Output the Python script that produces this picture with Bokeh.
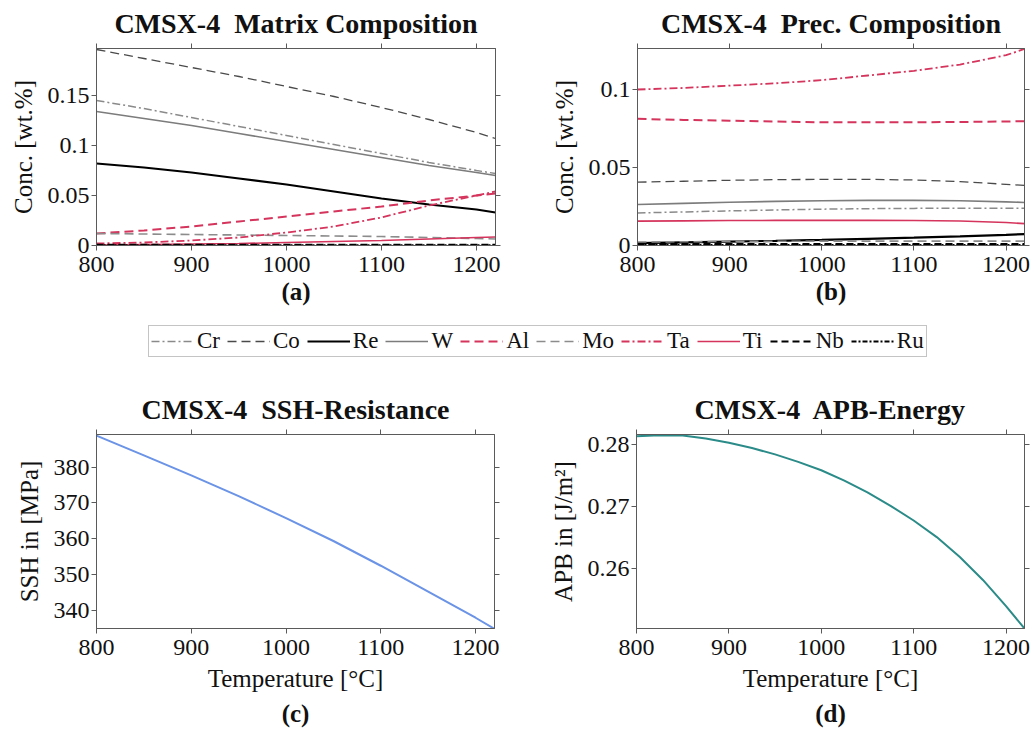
from bokeh.plotting import figure
from bokeh.models import (LinearAxis, FixedTicker, CustomJSTickFormatter, Range1d,
                          Legend, LegendItem, CustomLabelingPolicy)
from bokeh.layouts import column, row
from bokeh.embed import file_html
from bokeh.resources import INLINE

# ---------------- data ----------------
temps = [800, 850, 900, 950, 1000, 1050, 1100, 1150, 1200, 1220]
elements = ["Cr", "Co", "Re", "W", "Al", "Mo", "Ta", "Ti", "Nb", "Ru"]

# matrix composition (a)
mat_Cr = [0.145, 0.137, 0.128, 0.119, 0.110, 0.101, 0.092, 0.083, 0.075, 0.072]
mat_Co = [0.196, 0.187, 0.178, 0.169, 0.159, 0.149, 0.138, 0.126, 0.113, 0.107]
mat_Re = [0.082, 0.078, 0.073, 0.067, 0.061, 0.054, 0.047, 0.041, 0.036, 0.033]
mat_W = [0.134, 0.127, 0.120, 0.112, 0.104, 0.096, 0.088, 0.080, 0.073, 0.070]
mat_Al = [0.012, 0.015, 0.019, 0.024, 0.029, 0.034, 0.039, 0.045, 0.050, 0.052]
mat_Mo = [0.012, 0.0115, 0.011, 0.0105, 0.010, 0.0095, 0.009, 0.008, 0.007, 0.0065]
mat_Ta = [0.002, 0.003, 0.005, 0.008, 0.013, 0.019, 0.028, 0.040, 0.050, 0.054]
mat_Ti = [0.0005, 0.001, 0.0015, 0.002, 0.003, 0.004, 0.005, 0.0065, 0.008, 0.0085]
mat_Nb = [0.0008, 0.0008, 0.0008, 0.0008, 0.0008, 0.0008, 0.0008, 0.0008, 0.0008, 0.0008]
mat_Ru = [0.0003, 0.0003, 0.0003, 0.0003, 0.0003, 0.0003, 0.0003, 0.0003, 0.0003, 0.0003]

# precipitate composition (b)
prec_Cr = [0.0209, 0.0215, 0.0222, 0.0228, 0.0233, 0.0236, 0.0238, 0.0239, 0.0239, 0.0239]
prec_Co = [0.0406, 0.0412, 0.0418, 0.0422, 0.0424, 0.0424, 0.0420, 0.0410, 0.0392, 0.0385]
prec_Re = [0.0015, 0.0020, 0.0025, 0.0030, 0.0036, 0.0043, 0.0050, 0.0058, 0.0068, 0.0073]
prec_W = [0.0263, 0.0270, 0.0277, 0.0283, 0.0287, 0.0289, 0.0289, 0.0287, 0.0280, 0.0276]
prec_Al = [0.0812, 0.0805, 0.0800, 0.0795, 0.0790, 0.0790, 0.0790, 0.0792, 0.0795, 0.0797]
prec_Mo = [0.0022, 0.0024, 0.0026, 0.0027, 0.0028, 0.0028, 0.0028, 0.0028, 0.0028, 0.0028]
prec_Ta = [0.100, 0.101, 0.1025, 0.104, 0.106, 0.109, 0.112, 0.116, 0.122, 0.126]
prec_Ti = [0.0156, 0.0158, 0.0160, 0.0161, 0.0161, 0.0161, 0.0160, 0.0157, 0.0147, 0.0140]
prec_Nb = [0.0010, 0.0010, 0.0010, 0.0010, 0.0010, 0.0010, 0.0010, 0.0010, 0.0010, 0.0010]
prec_Ru = [0.0004, 0.0004, 0.0004, 0.0004, 0.0004, 0.0004, 0.0004, 0.0004, 0.0004, 0.0004]

# SSH resistance (c)
ssh_temps = [800, 850, 900, 950, 1000, 1050, 1100, 1150, 1200, 1220]
ssh_mpa = [388.8, 383.3, 377.7, 371.9, 365.8, 359.4, 352.5, 345.3, 338.0, 334.9]

# APB energy (d)
apb_temps = [800, 825, 850, 875, 900, 925, 950, 975, 1000, 1025, 1050, 1075, 1100,
             1125, 1150, 1175, 1200, 1220]
apb_energy = [0.28133, 0.28149, 0.28144, 0.28096, 0.28027, 0.27942, 0.27840, 0.27720,
              0.27585, 0.27418, 0.27230, 0.27013, 0.26777, 0.26510, 0.26191, 0.25821,
              0.25400, 0.25040]

x_ticks = [800, 900, 1000, 1100, 1200]
a_yticks = [0, 0.05, 0.1, 0.15]
b_yticks = [0, 0.05, 0.1]
c_yticks = [340, 350, 360, 370, 380]
d_yticks = [0.26, 0.27, 0.28]

matrix = dict(Cr=mat_Cr, Co=mat_Co, Re=mat_Re, W=mat_W, Al=mat_Al, Mo=mat_Mo,
              Ta=mat_Ta, Ti=mat_Ti, Nb=mat_Nb, Ru=mat_Ru)
prec = dict(Cr=prec_Cr, Co=prec_Co, Re=prec_Re, W=prec_W, Al=prec_Al, Mo=prec_Mo,
            Ta=prec_Ta, Ti=prec_Ti, Nb=prec_Nb, Ru=prec_Ru)

# ---------------- styles ----------------
FONT = "Liberation Serif"
RED = "#d5345c"
AXC = "#5a5a5a"
TXT = "#111111"
styles = {
    "Cr": dict(line_color="#8a8a8a", line_dash="8 3 2 3", line_width=1.5),
    "Co": dict(line_color="#4a4a4a", line_dash="9 5", line_width=1.3),
    "Re": dict(line_color="#000000", line_dash="solid", line_width=2.2),
    "W": dict(line_color="#7c7c7c", line_dash="solid", line_width=1.6),
    "Al": dict(line_color=RED, line_dash="9 5", line_width=2.0),
    "Mo": dict(line_color="#8c8c8c", line_dash="9 5", line_width=1.6),
    "Ta": dict(line_color=RED, line_dash="8 3 2 3", line_width=1.8),
    "Ti": dict(line_color=RED, line_dash="solid", line_width=1.6),
    "Nb": dict(line_color="#000000", line_dash="7 4", line_width=2.0),
    "Ru": dict(line_color="#000000", line_dash="5 2 2 2", line_width=2.0),
}

fmt = CustomJSTickFormatter(code="return String(parseFloat(tick.toFixed(4)));")
TICK_PX = "24px"
LABEL_PX = "25px"


def style_axis(ax):
    ax.axis_line_color = AXC
    ax.major_tick_line_color = AXC
    ax.major_tick_out = 5
    ax.major_tick_in = 0
    ax.minor_tick_line_color = None
    ax.major_label_text_font = FONT
    ax.major_label_text_font_size = TICK_PX
    ax.major_label_text_color = TXT
    ax.major_label_standoff = 2
    ax.axis_label_text_font = FONT
    ax.axis_label_text_font_size = LABEL_PX
    ax.axis_label_text_font_style = "normal"
    ax.axis_label_text_color = TXT


def mirror_axis(ticks):
    ax = LinearAxis(ticker=FixedTicker(ticks=ticks))
    style_axis(ax)
    ax.major_label_text_font_size = "1px"
    ax.major_label_standoff = 0
    ax.major_label_policy = CustomLabelingPolicy(
        code="for (const i of indices) { indices.unset(i) } return indices")
    return ax


def panel(width, height, yr, yticks, bl, br, bt, bb, title, ylabel, xlabel, tag):
    p = figure(width=width, height=height, x_range=Range1d(800, 1220), y_range=Range1d(*yr),
               output_backend="svg", toolbar_location=None,
               min_border_left=bl, min_border_right=br, min_border_top=bt,
               min_border_bottom=bb)
    p.title.text = title
    p.title.align = "center"
    p.title.text_font = FONT
    p.title.text_font_size = "28px"
    p.title.text_font_style = "bold"
    p.title.text_color = TXT
    p.title.standoff = 2
    p.grid.visible = False
    p.outline_line_color = AXC
    xax = p.xaxis[0]
    yax = p.yaxis[0]
    xax.ticker = FixedTicker(ticks=x_ticks)
    yax.ticker = FixedTicker(ticks=yticks)
    yax.formatter = fmt
    style_axis(xax)
    style_axis(yax)
    yax.axis_label = ylabel
    yax.axis_label_standoff = 8
    p.add_layout(mirror_axis(x_ticks), "above")
    p.add_layout(mirror_axis(yticks), "right")
    xax.major_label_standoff = 6
    if xlabel:
        xax.axis_label = xlabel
        xax.axis_label_standoff = 7
        tagax = LinearAxis(ticker=FixedTicker(ticks=[]))
        tagax.axis_line_color = None
        tagax.major_tick_line_color = None
        tagax.minor_tick_line_color = None
        tagax.major_label_text_font_size = "1px"
        tagax.major_label_standoff = 0
        tagax.axis_label = tag
        tagax.axis_label_text_font = FONT
        tagax.axis_label_text_font_size = LABEL_PX
        tagax.axis_label_text_font_style = "bold"
        tagax.axis_label_text_color = TXT
        tagax.axis_label_standoff = 5
        p.add_layout(tagax, "below")
    else:
        xax.axis_label = tag
        xax.axis_label_text_font_style = "bold"
        xax.axis_label_standoff = 3
    return p


T2 = "\u00a0 "
pa = panel(517, 320, (0, 0.197), a_yticks, 96, 22, 48, 75,
           "CMSX-4" + T2 + "Matrix Composition", "Conc. [wt.%]", None, "(a)")
pb = panel(517, 320, (0, 0.1263), b_yticks, 120, 8, 48, 75,
           "CMSX-4" + T2 + "Prec. Composition", "Conc. [wt.%]", None, "(b)")
for el in elements:
    pa.line(temps, matrix[el], **styles[el])
    pb.line(temps, prec[el], **styles[el])

pc = panel(517, 349, (335, 389.1), c_yticks, 96, 23, 53, 100,
           "CMSX-4" + T2 + "SSH-Resistance", "SSH in [MPa]", "Temperature [°C]", "(c)")
pc.line(ssh_temps, ssh_mpa, line_color="#6b93e6", line_width=2)

pd_ = panel(517, 349, (0.2504, 0.2816), d_yticks, 119, 9, 54, 100,
            "CMSX-4" + T2 + "APB-Energy", "APB in [J/m²]", "Temperature [°C]", "(d)")
pd_.line(apb_temps, apb_energy, line_color="#2a8b88", line_width=2)

# legend strip (series drawn off-range, only their legend glyphs are visible)
pl = figure(width=1034, height=60, x_range=Range1d(0, 1), y_range=Range1d(0, 1),
            output_backend="svg", toolbar_location=None,
            min_border_left=0, min_border_right=0, min_border_top=0, min_border_bottom=0)
pl.axis.visible = False
pl.grid.visible = False
pl.outline_line_color = None
items = []
for el in elements:
    r = pl.line(temps, matrix[el], **styles[el])
    items.append(LegendItem(label=el, renderers=[r]))
leg = Legend(items=items, orientation="horizontal", location=(148, 23),
             label_text_font=FONT, label_text_font_size="23px", label_text_color=TXT,
             glyph_width=43, glyph_height=20, label_standoff=3, spacing=7,
             padding=2, margin=0, border_line_color="#8a8a8a", border_line_width=1.5,
             label_height=20)
pl.add_layout(leg, "center")

layout = column(row(pa, pb), pl, row(pc, pd_))
open("out.html", "w").write(file_html(layout, INLINE))
